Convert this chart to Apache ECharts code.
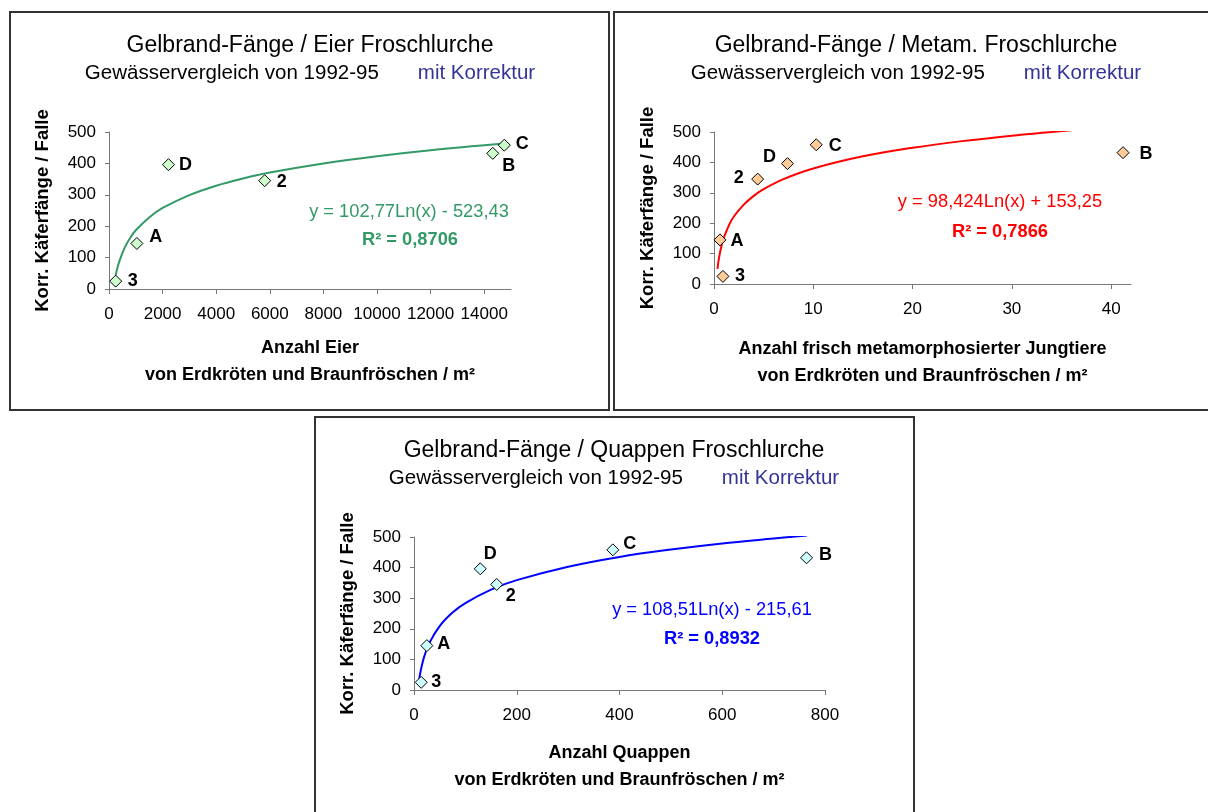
<!DOCTYPE html>
<html>
<head>
<meta charset="utf-8">
<title>Gelbrand-Fänge / Froschlurche</title>
<script src="https://cdn.jsdelivr.net/npm/echarts@6/dist/echarts.min.js"></script>
<style>
  html, body { margin: 0; padding: 0; background: #fff; }
  #chart { width: 1208px; height: 812px; }
</style>
</head>
<body>
<div id="chart"></div>
<script>
// Gewässer (Punktbeschriftungen) und Käferfänge
const siteLabels = ['3', 'A', 'D', '2', 'B', 'C'];
const kaeferProFalle = [25, 145, 396, 345, 432, 458];

// x-Werte je Diagramm
const eierProM2 = [250, 1040, 2220, 5810, 14320, 14750];
const metamProM2 = [0.9, 0.6, 7.4, 4.4, 41.2, 10.3];
const quappenProM2 = [14, 25, 129, 161, 764, 387];

// Trendlinien
const eierTrendX = [250, 300, 400, 600, 800, 1000, 1500, 2000, 3000, 4000, 5000, 6000, 8000, 10000, 12000, 14750];
const eierTrendY = [44, 63, 92, 134, 164, 187, 228, 258, 299, 329, 352, 371, 400, 423, 442, 463];
const metamTrendX = [0.35, 0.5, 0.75, 1, 1.5, 2, 3, 4, 5, 7, 10, 15, 20, 25, 30, 34, 36];
const metamTrendY = [50, 85, 125, 153, 193, 222, 261, 290, 312, 345, 380, 420, 448, 470, 488, 500, 506];
const quappenTrendX = [9, 12, 15, 20, 30, 50, 75, 100, 150, 200, 300, 400, 500, 600, 700, 765];
const quappenTrendY = [23, 54, 78, 110, 154, 209, 253, 284, 328, 359, 403, 435, 459, 479, 495, 505];

// Achsenbeschriftungen
const valueTicks = [0, 100, 200, 300, 400, 500];
const eierTicks = [0, 2000, 4000, 6000, 8000, 10000, 12000, 14000];
const metamTicks = [0, 10, 20, 30, 40];
const quappenTicks = [0, 200, 400, 600, 800];

// Texte
const titles = ['Gelbrand-Fänge / Eier Froschlurche', 'Gelbrand-Fänge / Metam. Froschlurche', 'Gelbrand-Fänge / Quappen Froschlurche'];
const subtitle = 'Gewässervergleich von 1992-95';
const korrektur = 'mit Korrektur';
const yName = 'Korr. Käferfänge / Falle';
const xNames = ['Anzahl Eier', 'Anzahl frisch metamorphosierter Jungtiere', 'Anzahl Quappen'];
const xName2 = 'von Erdkröten und Braunfröschen / m²';
const equations = ['y = 102,77Ln(x) - 523,43', 'y = 98,424Ln(x) + 153,25', 'y = 108,51Ln(x) - 215,61'];
const rSquared = ['R² = 0,8706', 'R² = 0,7866', 'R² = 0,8932'];

const FONT = '"Liberation Sans", Arial, sans-serif';

// Layout je Diagramm
const panels = [
  { xs: eierProM2, tx: eierTrendX, ty: eierTrendY, ticks: eierTicks, max: 15000,
    grid: { left: 109, top: 132, width: 402, height: 157 }, nameGap: 46,
    line: '#339966', fill: '#ccffcc', cx: 310, ty0: 46,
    eq: [409, 212], r2: [410, 240], box: [10, 12, 599, 398],
    shift: [[17, 0], [19, -6], [17, 0], [17, 1], [16, 13], [18, -1]] },
  { xs: metamProM2, tx: metamTrendX, ty: metamTrendY, ticks: metamTicks, max: 42,
    grid: { left: 714, top: 132, width: 417, height: 152 }, nameGap: 52,
    line: '#ff0000', fill: '#ffcc99', cx: 916, ty0: 46,
    eq: [1000, 202], r2: [1000, 232], box: [614, 12, 600, 398],
    shift: [[17, 0], [17, 1], [-18, -7], [-19, -1], [23, 1], [19, 1]] },
  { xs: quappenProM2, tx: quappenTrendX, ty: quappenTrendY, ticks: quappenTicks, max: 800,
    grid: { left: 414, top: 537, width: 411, height: 153 }, nameGap: 50,
    line: '#0000ff', fill: '#ccffff', cx: 614, ty0: 451,
    eq: [712, 610], r2: [712, 639], box: [315, 417, 599, 400],
    shift: [[15, 0], [17, -2], [10, -15], [14, 12], [19, -3], [17, -6]] }
];

const grids = [], xAxes = [], yAxes = [], series = [], graphics = [];

panels.forEach(function (p, i) {
  grids.push(p.grid);
  xAxes.push({
    type: 'value', gridIndex: i, min: 0, max: p.max,
    name: xNames[i] + '\n' + xName2, nameLocation: 'middle', nameGap: p.nameGap,
    nameTextStyle: { fontFamily: FONT, fontSize: 18, fontWeight: 'bold', color: '#000', lineHeight: 27 },
    axisLine: { lineStyle: { color: '#777', width: 1 } },
    axisTick: { inside: false, length: 5, lineStyle: { color: '#777' }, customValues: p.ticks },
    axisLabel: {
      fontFamily: FONT, fontSize: 17, color: '#000', margin: 17, customValues: p.ticks,
      formatter: function (v) { return String(v); }
    },
    splitLine: { show: false }
  });
  yAxes.push({
    type: 'value', gridIndex: i, min: 0, max: 500, interval: 100,
    name: yName, nameLocation: 'middle', nameRotate: 90, nameGap: 57,
    nameTextStyle: { fontFamily: FONT, fontSize: 18.5, fontWeight: 'bold', color: '#000' },
    axisLine: { show: true, lineStyle: { color: '#777', width: 1 } },
    axisTick: { show: true, length: 4, lineStyle: { color: '#777' }, customValues: valueTicks },
    axisLabel: {
      fontFamily: FONT, fontSize: 17, color: '#000', margin: 13, customValues: valueTicks,
      formatter: function (v) { return String(v); }
    },
    splitLine: { show: false }
  });

  series.push({
    type: 'line', xAxisIndex: i, yAxisIndex: i, z: 2,
    data: p.tx.map(function (x, k) { return [x, p.ty[k]]; }),
    showSymbol: false, smooth: 0.35, clip: true, silent: true,
    lineStyle: { color: p.line, width: 2 }
  });
  series.push({
    type: 'scatter', xAxisIndex: i, yAxisIndex: i, z: 3,
    symbol: 'diamond', symbolSize: 12,
    itemStyle: { color: p.fill, borderColor: '#000', borderWidth: 1, opacity: 1 },
    data: p.xs.map(function (x, k) {
      return {
        name: siteLabels[k], value: [x, kaeferProFalle[k]],
        label: { offset: p.shift[k] }
      };
    }),
    label: {
      show: true, position: 'inside', formatter: '{b}',
      fontFamily: FONT, fontSize: 18, fontWeight: 'bold', color: '#000'
    }
  });

  // Rahmen
  graphics.push({
    type: 'rect', silent: true,
    shape: { x: p.box[0], y: p.box[1], width: p.box[2], height: p.box[3] },
    style: { fill: 'none', stroke: '#333', lineWidth: 2 }
  });
  // Titel
  graphics.push({
    type: 'text', x: p.cx, y: p.ty0,
    style: { text: titles[i], fontFamily: FONT, fontSize: 23, fill: '#000', align: 'center', verticalAlign: 'middle' }
  });
  graphics.push({
    type: 'text', x: p.cx, y: p.ty0 + 27,
    style: {
      text: '{a|' + subtitle + '}{gap|}{b|' + korrektur + '}',
      align: 'center', verticalAlign: 'middle',
      rich: {
        a: { fontFamily: FONT, fontSize: 20.5, fill: '#000' },
        gap: { width: 39 },
        b: { fontFamily: FONT, fontSize: 20.5, fill: '#333399' }
      }
    }
  });
  // Gleichung und Bestimmtheitsmass
  graphics.push({
    type: 'text', x: p.eq[0], y: p.eq[1],
    style: { text: equations[i], fontFamily: FONT, fontSize: 18.3, fill: p.line, align: 'center', verticalAlign: 'middle' }
  });
  graphics.push({
    type: 'text', x: p.r2[0], y: p.r2[1],
    style: { text: rSquared[i], fontFamily: FONT, fontSize: 18.3, fontWeight: 'bold', fill: p.line, align: 'center', verticalAlign: 'middle' }
  });
});

const chart = echarts.init(document.getElementById('chart'));
chart.setOption({
  backgroundColor: '#fff',
  animation: false,
  grid: grids,
  xAxis: xAxes,
  yAxis: yAxes,
  series: series,
  graphic: graphics
});
</script>
</body>
</html>
